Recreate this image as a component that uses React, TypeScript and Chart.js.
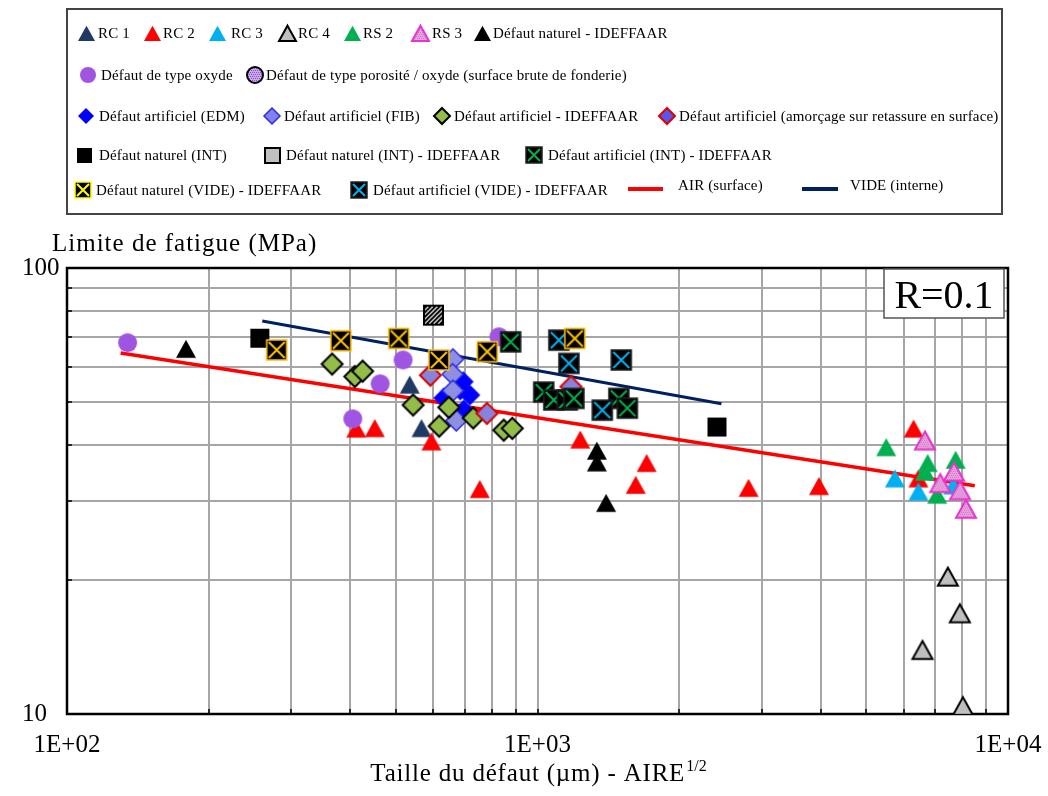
import React, { useEffect, useRef } from "react";
import { Chart, registerables } from "chart.js";

Chart.register(...registerables);

const FONT = '"Liberation Serif", "Times New Roman", serif';

// ---------- DATA (x = taille du défaut µm, y = limite de fatigue MPa) ----------
const rc1X = [535, 567];
const rc1Y = [54.7, 43.7];
const rc2X = [412, 451, 595, 754, 1233, 1617, 1706, 2810, 3965, 6300, 6450];
const rc2Y = [43.6, 43.7, 40.8, 31.9, 41.2, 32.6, 36.5, 32.1, 32.4, 43.6, 33.7];
const rc3X = [5750, 6450, 7650];
const rc3Y = [33.7, 31.5, 32.5];
const rc4X = [7450, 7900, 6580, 8020];
const rc4Y = [20.3, 16.8, 13.9, 10.4];
const rs2X = [5510, 6750, 6660, 7740, 7070];
const rs2Y = [39.6, 36.5, 34.9, 37.1, 31.0];
const rs3X = [6660, 7180, 7680, 7910, 8140];
const rs3Y = [41.0, 32.9, 34.9, 31.7, 28.8];
const natIdX = [179, 1337, 1337, 1399];
const natIdY = [65.8, 38.9, 36.6, 29.7];
const oxydeX = [134.5, 518, 463, 405, 828];
const oxydeY = [68.0, 62.2, 55.0, 45.9, 70.1];
const porositeX: number[] = [];
const porositeY: number[] = [];
const edmX = [695, 718, 632, 697, 685];
const edmY = [55.6, 51.9, 51.1, 48.0, 53.3];
const fibX = [661, 660, 661, 672];
const fibY = [62.4, 57.8, 53.1, 45.5];
const artIdX = [366, 409, 425, 544, 648, 618, 730, 848, 884];
const artIdY = [60.9, 57.1, 58.7, 49.3, 48.7, 44.2, 46.1, 43.3, 43.7];
const amorcX = [592, 781, 1178];
const amorcY = [57.5, 47.2, 54.2];
const intX = [257, 2407];
const intY = [69.6, 44.0];
const intIdX = [601];
const intIdY = [78.4];
const artIntIdX = [877, 1031, 1083, 1157, 1195, 1489, 1552];
const artIntIdY = [68.3, 52.7, 50.6, 50.6, 51.0, 51.0, 48.5];
const natVideX = [279, 382, 507, 617, 782, 1200];
const natVideY = [65.5, 68.7, 69.5, 62.2, 64.9, 69.5];
const artVideX = [1110, 1166, 1507, 1373];
const artVideY = [68.9, 61.1, 62.2, 48.0];
const airX = [130, 8500];
const airY = [64.5, 32.5];
const videX = [260, 2460];
const videY = [76.1, 49.6];

const xTicks = [100, 200, 300, 400, 500, 600, 700, 800, 900, 1000, 2000, 3000, 4000, 5000, 6000, 7000, 8000, 9000, 10000];
const yTicks = [10, 20, 30, 40, 50, 60, 70, 80, 90, 100];
const xTickLabels: Record<number, string> = { 100: "1E+02", 1000: "1E+03", 10000: "1E+04" };
const yTickLabels: Record<number, string> = { 10: "10", 100: "100" };

const labels: Record<string, string> = {
  rc1: "RC 1",
  rc2: "RC 2",
  rc3: "RC 3",
  rc4: "RC 4",
  rs2: "RS 2",
  rs3: "RS 3",
  natId: "Défaut naturel - IDEFFAAR",
  oxyde: "Défaut de type oxyde",
  porosite: "Défaut de type porosité / oxyde (surface brute de fonderie)",
  edm: "Défaut artificiel (EDM)",
  fib: "Défaut artificiel (FIB)",
  artId: "Défaut artificiel - IDEFFAAR",
  amorc: "Défaut artificiel (amorçage sur retassure en surface)",
  int: "Défaut naturel (INT)",
  intId: "Défaut naturel (INT) - IDEFFAAR",
  artIntId: "Défaut artificiel (INT) - IDEFFAAR",
  natVide: "Défaut naturel (VIDE) - IDEFFAAR",
  artVide: "Défaut artificiel (VIDE) - IDEFFAAR",
  air: "AIR (surface)",
  vide: "VIDE (interne)",
};

// ---------- MARKERS ----------
type Spec = {
  shape: "tri" | "circle" | "diamond" | "square" | "xsquare" | "hatch";
  fill: string;
  stroke?: string;
  lw?: number;
  cross?: string;
  dots?: string;
};

const SPECS: Record<string, Spec> = {
  rc1: { shape: "tri", fill: "#1F3864" },
  rc2: { shape: "tri", fill: "#FF0000" },
  rc3: { shape: "tri", fill: "#00B0F0" },
  rc4: { shape: "tri", fill: "#BFBFBF", stroke: "#000", lw: 2 },
  rs2: { shape: "tri", fill: "#00B050" },
  rs3: { shape: "tri", fill: "#E6A4DC", stroke: "#E535CF", lw: 2, dots: "rgba(190,60,180,0.45)" },
  natId: { shape: "tri", fill: "#000" },
  oxyde: { shape: "circle", fill: "#A055E2" },
  porosite: { shape: "circle", fill: "#CDA6F2", stroke: "#000", lw: 2, dots: "rgba(90,30,140,0.6)" },
  edm: { shape: "diamond", fill: "#0000FF" },
  fib: { shape: "diamond", fill: "#8E8EE2", stroke: "#2B2BE0", lw: 1.5 },
  artId: { shape: "diamond", fill: "#92BD48", stroke: "#000", lw: 2 },
  amorc: { shape: "diamond", fill: "#8484DC", stroke: "#E00000", lw: 2 },
  int: { shape: "square", fill: "#000" },
  intId: { shape: "hatch", fill: "#FFF", stroke: "#000", lw: 2 },
  artIntId: { shape: "xsquare", fill: "#000", cross: "#00B050", stroke: "#222", lw: 1.5 },
  natVide: { shape: "xsquare", fill: "#000", cross: "#FFC000", stroke: "#FFC000", lw: 1.5 },
  artVide: { shape: "xsquare", fill: "#000", cross: "#00B0F0", stroke: "#222", lw: 1.5 },
};

const LEGEND_OVERRIDES: Record<string, Partial<Spec>> = {
  intId: { shape: "square", fill: "#C0C0C0", stroke: "#000", lw: 2 },
  amorc: { fill: "#5656F0" },
  natVide: { cross: "#FFFF00", stroke: "#FFFF00" },
  fib: { fill: "#8080EE" },
};

const PLOT_SIZE: Record<string, number> = { tri: 20, circle: 19, diamond: 21, square: 19, xsquare: 20, hatch: 19 };
const LEGEND_SIZE: Record<string, number> = { tri: 17, circle: 16, diamond: 16, square: 15, xsquare: 16, hatch: 15 };

function makeMarker(spec: Spec, size: number): HTMLCanvasElement {
  const pad = 3;
  const S = Math.round(size + pad * 2);
  const c = document.createElement("canvas");
  c.width = S;
  c.height = S;
  const ctx = c.getContext("2d")!;
  const cx = S / 2;
  const cy = S / 2;
  const h = size / 2;
  const path = () => {
    ctx.beginPath();
    switch (spec.shape) {
      case "tri":
        ctx.moveTo(cx, cy - size * 0.46);
        ctx.lineTo(cx + h, cy + size * 0.44);
        ctx.lineTo(cx - h, cy + size * 0.44);
        ctx.closePath();
        break;
      case "circle":
        ctx.arc(cx, cy, h, 0, Math.PI * 2);
        break;
      case "diamond":
        ctx.moveTo(cx, cy - h);
        ctx.lineTo(cx + h, cy);
        ctx.lineTo(cx, cy + h);
        ctx.lineTo(cx - h, cy);
        ctx.closePath();
        break;
      default:
        ctx.rect(cx - h, cy - h, size, size);
    }
  };
  path();
  ctx.fillStyle = spec.fill;
  ctx.fill();
  if (spec.dots || spec.shape === "hatch") {
    ctx.save();
    path();
    ctx.clip();
    if (spec.shape === "hatch") {
      ctx.strokeStyle = "#000";
      ctx.lineWidth = 2;
      for (let k = -S; k < 2 * S; k += 4.5) {
        ctx.beginPath();
        ctx.moveTo(k, S);
        ctx.lineTo(k + S, 0);
        ctx.stroke();
      }
    } else if (spec.dots) {
      ctx.fillStyle = spec.dots;
      for (let yy = 0; yy < S; yy += 2) {
        for (let xx = (yy / 2) % 2; xx < S; xx += 2) {
          ctx.fillRect(xx, yy, 1, 1);
        }
      }
    }
    ctx.restore();
  }
  if (spec.shape === "xsquare" && spec.cross) {
    ctx.strokeStyle = spec.cross;
    ctx.lineWidth = 2;
    ctx.beginPath();
    ctx.moveTo(cx - h + 2, cy - h + 2);
    ctx.lineTo(cx + h - 2, cy + h - 2);
    ctx.moveTo(cx + h - 2, cy - h + 2);
    ctx.lineTo(cx - h + 2, cy + h - 2);
    ctx.stroke();
  }
  if (spec.stroke) {
    path();
    ctx.strokeStyle = spec.stroke;
    ctx.lineWidth = spec.lw || 1;
    ctx.stroke();
  }
  return c;
}

// ---------- SERIES (bottom -> top drawing order) ----------
type Series = { key: string; xs: number[]; ys: number[]; line?: boolean; color?: string; width?: number };
const SERIES: Series[] = [
  { key: "air", xs: airX, ys: airY, line: true, color: "#FF0000", width: 3.5 },
  { key: "vide", xs: videX, ys: videY, line: true, color: "#002060", width: 3 },
  { key: "rc1", xs: rc1X, ys: rc1Y },
  { key: "rc2", xs: rc2X, ys: rc2Y },
  { key: "rc3", xs: rc3X, ys: rc3Y },
  { key: "rc4", xs: rc4X, ys: rc4Y },
  { key: "rs2", xs: rs2X, ys: rs2Y },
  { key: "rs3", xs: rs3X, ys: rs3Y },
  { key: "natId", xs: natIdX, ys: natIdY },
  { key: "oxyde", xs: oxydeX, ys: oxydeY },
  { key: "porosite", xs: porositeX, ys: porositeY },
  { key: "edm", xs: edmX, ys: edmY },
  { key: "fib", xs: fibX, ys: fibY },
  { key: "artId", xs: artIdX, ys: artIdY },
  { key: "amorc", xs: amorcX, ys: amorcY },
  { key: "int", xs: intX, ys: intY },
  { key: "intId", xs: intIdX, ys: intIdY },
  { key: "artIntId", xs: artIntIdX, ys: artIntIdY },
  { key: "artVide", xs: artVideX, ys: artVideY },
  { key: "natVide", xs: natVideX, ys: natVideY },
];

// legend layout: [key, iconX, textX, row]
const LEGEND_ROWS_Y = [33, 75, 116, 155, 190];
const LEGEND_ITEMS: [string, number, number, number][] = [
  ["rc1", 86, 98, 0],
  ["rc2", 152, 163, 0],
  ["rc3", 217, 231, 0],
  ["rc4", 287, 298, 0],
  ["rs2", 352, 363, 0],
  ["rs3", 420, 432, 0],
  ["natId", 482, 493, 0],
  ["oxyde", 88, 101, 1],
  ["porosite", 255, 266, 1],
  ["edm", 86, 99, 2],
  ["fib", 272, 284, 2],
  ["artId", 442, 454, 2],
  ["amorc", 667, 679, 2],
  ["int", 84, 99, 3],
  ["intId", 272, 286, 3],
  ["artIntId", 534, 548, 3],
  ["natVide", 83, 96, 4],
  ["artVide", 359, 373, 4],
];
const LEGEND_LINES: [string, number, number, number, string][] = [
  ["air", 628, 663, 678, "#FF0000"],
  ["vide", 802, 838, 850, "#002060"],
];

export default function App() {
  const ref = useRef<HTMLCanvasElement>(null);

  useEffect(() => {
    document.body.style.margin = "0";
    const canvas = ref.current;
    if (!canvas) return;

    const plotMarkers: Record<string, HTMLCanvasElement> = {};
    const legendMarkers: Record<string, HTMLCanvasElement> = {};
    Object.keys(SPECS).forEach((k) => {
      const s = SPECS[k];
      plotMarkers[k] = makeMarker(s, PLOT_SIZE[s.shape]);
      const ls = { ...s, ...(LEGEND_OVERRIDES[k] || {}) } as Spec;
      legendMarkers[k] = makeMarker(ls, LEGEND_SIZE[ls.shape]);
    });

    const datasets: any[] = SERIES.map((s, i) => {
      const data = s.xs.map((x, j) => ({ x, y: s.ys[j] }));
      if (s.line) {
        return {
          label: labels[s.key],
          data,
          showLine: true,
          borderColor: s.color,
          backgroundColor: s.color,
          borderWidth: s.width,
          pointRadius: 0,
          fill: false,
          order: SERIES.length - i,
        };
      }
      return {
        label: labels[s.key],
        data,
        showLine: false,
        pointStyle: plotMarkers[s.key],
        pointRadius: 10,
        pointHoverRadius: 10,
        order: SERIES.length - i,
      };
    });

    const decor = {
      id: "decor",
      beforeDatasetsDraw(chart: any) {
        const { ctx, chartArea: a, scales } = chart;
        ctx.save();
        ctx.strokeStyle = "#000";
        ctx.lineWidth = 1.5;
        ctx.beginPath();
        xTicks.forEach((v) => {
          const px = Math.round(scales.x.getPixelForValue(v));
          ctx.moveTo(px, a.bottom);
          ctx.lineTo(px, a.bottom - 5);
        });
        yTicks.forEach((v) => {
          const py = Math.round(scales.y.getPixelForValue(v));
          ctx.moveTo(a.left, py);
          ctx.lineTo(a.left + 5, py);
        });
        ctx.stroke();
        ctx.lineWidth = 2.5;
        ctx.strokeRect(a.left, a.top, a.right - a.left, a.bottom - a.top);
        ctx.restore();
      },
      afterDatasetsDraw(chart: any) {
        const { ctx } = chart;
        ctx.save();
        ctx.fillStyle = "#FFF";
        ctx.fillRect(884, 269, 120, 49);
        ctx.strokeStyle = "#555";
        ctx.lineWidth = 1.5;
        ctx.strokeRect(884, 269, 120, 49);
        ctx.fillStyle = "#000";
        ctx.font = `40px ${FONT}`;
        ctx.textAlign = "center";
        ctx.textBaseline = "alphabetic";
        ctx.fillText("R=0.1", 944, 308);
        ctx.restore();
      },
      afterDraw(chart: any) {
        const { ctx } = chart;
        ctx.save();
        ctx.fillStyle = "#000";
        // axis titles
        ctx.textBaseline = "alphabetic";
        ctx.textAlign = "left";
        ctx.font = `25px ${FONT}`;
        (ctx as any).letterSpacing = "1px";
        ctx.fillText("Limite de fatigue (MPa)", 52, 251);
        const base = "Taille du défaut (µm) - AIRE";
        (ctx as any).letterSpacing = "0.8px";
        const wb = ctx.measureText(base).width;
        ctx.font = `16px ${FONT}`;
        (ctx as any).letterSpacing = "0px";
        const ws = ctx.measureText("1/2").width;
        const x0 = 538 - (wb + ws) / 2;
        ctx.font = `25px ${FONT}`;
        (ctx as any).letterSpacing = "0.8px";
        ctx.fillText(base, x0, 781);
        (ctx as any).letterSpacing = "0px";
        ctx.font = `16px ${FONT}`;
        ctx.fillText("1/2", x0 + wb + 1, 771);

        // legend box
        ctx.fillStyle = "#FFF";
        ctx.fillRect(67, 9, 935, 205);
        ctx.strokeStyle = "#444";
        ctx.lineWidth = 2;
        ctx.strokeRect(67, 9, 935, 205);
        ctx.fillStyle = "#000";
        ctx.font = `15px ${FONT}`;
        (ctx as any).letterSpacing = "0.15px";
        ctx.textBaseline = "middle";
        LEGEND_ITEMS.forEach(([key, ix, tx, row]) => {
          const y = LEGEND_ROWS_Y[row];
          const m = legendMarkers[key];
          ctx.drawImage(m, Math.round(ix - m.width / 2), Math.round(y - m.height / 2));
          ctx.fillText(labels[key], tx, y + 1);
        });
        LEGEND_LINES.forEach(([key, x1, x2, tx, color]) => {
          const y = LEGEND_ROWS_Y[4] - 1;
          ctx.strokeStyle = color;
          ctx.lineWidth = 4;
          ctx.beginPath();
          ctx.moveTo(x1, y);
          ctx.lineTo(x2, y);
          ctx.stroke();
          ctx.fillText(labels[key], tx, y - 3);
        });
        ctx.restore();
      },
    };

    const chart = new Chart(canvas, {
      type: "scatter",
      data: { datasets },
      options: {
        responsive: false,
        animation: false,
        devicePixelRatio: 1,
        events: [],
        layout: { padding: { left: 22, right: 40, top: 268, bottom: 0 } },
        plugins: { legend: { display: false }, tooltip: { enabled: false } },
        scales: {
          x: {
            type: "logarithmic",
            min: 100,
            max: 10000,
            afterBuildTicks: (scale: any) => {
              scale.ticks = xTicks.map((v) => ({ value: v, major: false }));
            },
            afterFit: (scale: any) => {
              scale.height = 82;
            },
            grid: { color: "#A6A6A6", lineWidth: 2, drawTicks: true, tickLength: 16, tickColor: "rgba(0,0,0,0)" },
            border: { display: true, color: "#000", width: 2 },
            ticks: {
              autoSkip: false,
              maxRotation: 0,
              padding: 0,
              color: "#000",
              font: { family: FONT, size: 25 },
              callback: (v: any) => xTickLabels[Number(v)] || "",
            },
          },
          y: {
            type: "logarithmic",
            min: 10,
            max: 100,
            afterBuildTicks: (scale: any) => {
              scale.ticks = yTicks.map((v) => ({ value: v, major: false }));
            },
            afterFit: (scale: any) => {
              scale.width = 45;
            },
            grid: { color: "#A6A6A6", lineWidth: 2, drawTicks: false },
            border: { display: true, color: "#000", width: 2 },
            ticks: {
              autoSkip: false,
              crossAlign: "far",
              padding: 6,
              color: "#000",
              font: { family: FONT, size: 25 },
              callback: (v: any) => yTickLabels[Number(v)] || "",
            },
          },
        },
      } as any,
      plugins: [decor],
    });

    return () => chart.destroy();
  }, []);

  return <canvas ref={ref} width={1048} height={796} style={{ display: "block" }} />;
}
